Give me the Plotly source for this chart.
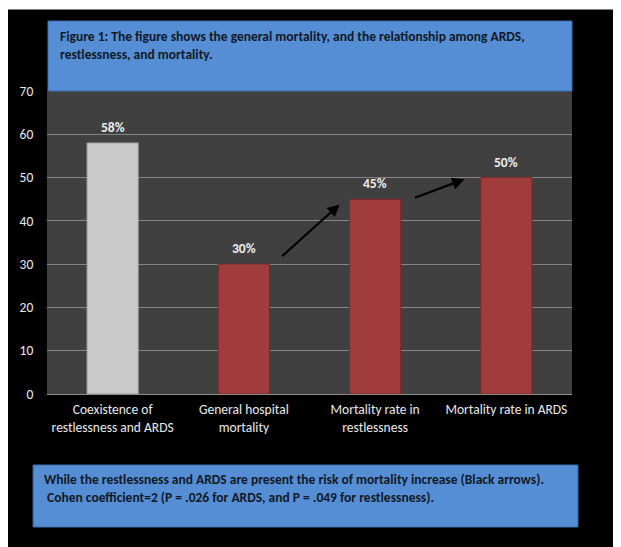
import plotly.graph_objects as go

categories = ["Coexistence of<br>restlessness and ARDS", "General hospital<br>mortality",
              "Mortality rate in<br>restlessness", "Mortality rate in ARDS"]
values = [58, 30, 45, 50]
labels = ["58%", "30%", "45%", "50%"]
bar_colors = ["#C9C9C9", "#A03C3C", "#A03C3C", "#A03C3C"]
bar_edges = ["#9a9a9a", "#7a2828", "#7a2828", "#7a2828"]

FONT = "Carlito, Calibri, Lato, sans-serif"

OFF = 8  # page body margin
W, H = 621 - OFF, 547 - OFF
# plot area in screen pixels: x 43..572, y 91..394
L, R, T, B = 43 - OFF, W - (572 - OFF), 91 - OFF, H - (394 - OFF)
pw, ph = W - L - R, H - T - B

def px(x):
    return (x - OFF - L) / pw

def py(y):
    return (H - B - (y - OFF)) / ph

fig = go.Figure()
fig.add_trace(go.Bar(
    x=categories, y=values,
    marker=dict(color=bar_colors, line=dict(color=bar_edges, width=1)),
    width=0.39, showlegend=False, hoverinfo="skip",
))

shapes = [
    dict(type="rect", xref="paper", yref="paper", x0=px(0), x1=px(640), y0=py(9.5), y1=py(0),
         fillcolor="#FFFFFF", line=dict(width=0), layer="below"),
    dict(type="rect", xref="paper", yref="paper", x0=0, x1=1, y0=0, y1=1,
         fillcolor="#404040", line=dict(width=0), layer="below"),
    dict(type="rect", xref="paper", yref="paper", x0=px(44), x1=px(572), y0=py(91), y1=py(21),
         fillcolor="#558ED5", line=dict(color="#3D6FAE", width=1), layer="above"),
    dict(type="rect", xref="paper", yref="paper", x0=px(29), x1=px(578), y0=py(527), y1=py(465),
         fillcolor="#558ED5", line=dict(color="#3D6FAE", width=1), layer="above"),
]

annotations = []
for c, v, t in zip(categories, values, labels):
    annotations.append(dict(x=c, y=v, text="<b>" + t + "</b>", showarrow=False, xref="x", yref="y",
                            yanchor="bottom", yshift=5,
                            font=dict(family=FONT, size=13.5, color="#EDEDED")))

# arrows: head position on category axis index / value, tail as pixel offset
arrows = [(1.73, 43.8, -59, 53), (2.68, 49.6, -51, 19)]
for x1, y1, dx, dy in arrows:
    annotations.append(dict(x=x1, y=y1, ax=dx, ay=dy, xref="x", yref="y",
                            showarrow=True, arrowhead=2, arrowsize=1.1, arrowwidth=2.2,
                            arrowcolor="#000000", text=""))

annotations.append(dict(xref="paper", yref="paper", x=px(54), y=py(26), xanchor="left", yanchor="top",
                        align="left", showarrow=False,
                        text="<b>Figure 1: The figure shows the general mortality, and the relationship among ARDS,<br>restlessness, and mortality.</b>",
                        font=dict(family=FONT, size=13.5, color="#111A26")))
annotations.append(dict(xref="paper", yref="paper", x=px(38), y=py(469), xanchor="left", yanchor="top",
                        align="left", showarrow=False,
                        text="<b>While the restlessness and ARDS are present the risk of mortality increase (Black arrows).<br> Cohen coefficient=2 (P = .026 for ARDS, and P = .049 for restlessness).</b>",
                        font=dict(family=FONT, size=13.5, color="#111A26")))

fig.update_layout(
    width=W, height=H,
    margin=dict(l=L, r=R, t=T, b=B, pad=0),
    paper_bgcolor="#000000",
    plot_bgcolor="#404040",
    bargap=0.61,
    shapes=shapes,
    annotations=annotations,
    font=dict(family=FONT, color="#E6E6E6", size=13.5),
    xaxis=dict(showgrid=False, showline=True, linecolor="#8C8C8C", linewidth=1,
               ticklabelstandoff=3,
               tickfont=dict(family=FONT, size=13.5, color="#EBEBEB"), ticks="", fixedrange=True),
    yaxis=dict(range=[0, 70], dtick=10, showgrid=True, gridcolor="#858585", gridwidth=1,
               zeroline=False, showline=False, ticks="outside", ticklen=10, tickcolor="#000000",
               tickfont=dict(family=FONT, size=13.5, color="#EBEBEB"), fixedrange=True),
)

fig.write_html("out.html")
